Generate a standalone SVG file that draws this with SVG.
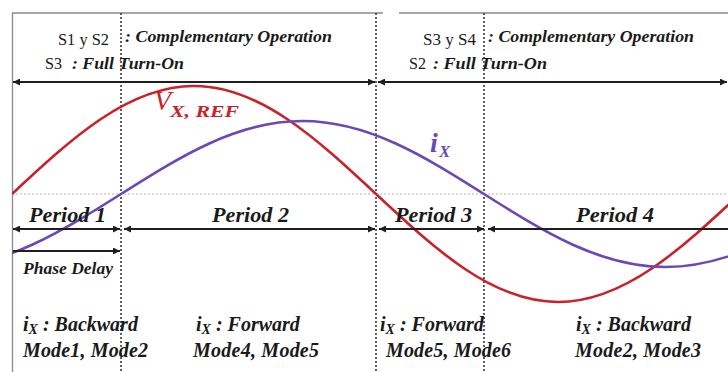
<svg xmlns="http://www.w3.org/2000/svg" width="728" height="372" viewBox="0 0 728 372">
<style>
.frame{stroke:#8a8a8a;stroke-width:1.3;fill:none}
.div{stroke:#3a3a3a;stroke-width:1.6;stroke-dasharray:2 2;fill:none}
.zero{stroke:#b5b5b5;stroke-width:1.2;stroke-dasharray:2 2;fill:none}
.arr{stroke:#1e1e1e;stroke-width:1.8;fill:none}
.reg{font-family:"Liberation Serif","Times New Roman",serif;font-size:16px;fill:#1a1a1a}
.bi{font-family:"Liberation Serif","Times New Roman",serif;font-weight:bold;font-style:italic;fill:#1a1a1a}
.top{font-size:16px}
.per{font-size:22px}
.bot{font-size:20px}
.sub{font-size:14px}
.red{stroke:#c8232b;stroke-width:2.6;fill:none}
.pur{stroke:#6a48b6;stroke-width:2.6;fill:none}
</style>
<defs>
<marker id="ah" viewBox="0 0 10 10" refX="10" refY="5" markerWidth="9" markerHeight="7" markerUnits="userSpaceOnUse" orient="auto-start-reverse">
<path d="M0,0 L10,5 L0,10 z" fill="#1e1e1e"/>
</marker>
<clipPath id="plot"><rect x="12" y="0" width="716" height="372"/></clipPath>
</defs>
<rect width="728" height="372" fill="#ffffff"/>
<g id="frame">
<line class="frame" x1="12.5" y1="13" x2="12.5" y2="372"/>
<line class="frame" x1="12" y1="13" x2="383" y2="13"/>
<line class="frame" x1="399" y1="13" x2="728" y2="13"/>
<line class="zero" x1="12" y1="194" x2="728" y2="194"/>
</g>
<g id="dividers">
<line class="div" x1="121" y1="13" x2="121" y2="372"/>
<line class="div" x1="376" y1="13" x2="376" y2="372"/>
<line class="div" x1="484" y1="13" x2="484" y2="372"/>
</g>
<g id="curves" clip-path="url(#plot)">
<path id="vref" class="red" d="M12,194 C71.36,138.67 128.14,86 194,86 C259.86,86 316.64,138.67 376,194 C435.36,249.33 492.14,302 558,302 C623.86,302 680.64,249.33 740,194"/>
<path id="ix" class="pur" d="M-60.5,267 C5.18,267 61.81,231.4 121,194 C180.19,156.6 236.82,121 302.5,121 C368.18,121 424.81,156.6 484,194 C543.19,231.4 599.82,267 665.5,267 C731.18,267 787.81,231.4 847,194"/>
</g>
<g id="connectors">
<line class="arr" x1="13" y1="82" x2="375" y2="82" marker-start="url(#ah)" marker-end="url(#ah)"/>
<line class="arr" x1="378" y1="82" x2="727" y2="82" marker-start="url(#ah)" marker-end="url(#ah)"/>
<line class="arr" x1="13" y1="229" x2="120" y2="229" marker-start="url(#ah)" marker-end="url(#ah)"/>
<line class="arr" x1="124" y1="229" x2="375" y2="229" marker-start="url(#ah)" marker-end="url(#ah)"/>
<line class="arr" x1="379" y1="229" x2="484" y2="229" marker-start="url(#ah)" marker-end="url(#ah)"/>
<line class="arr" x1="488" y1="229" x2="728" y2="229" marker-start="url(#ah)"/>
<line class="arr" x1="13" y1="251" x2="120" y2="251" marker-end="url(#ah)"/>
</g>
<g id="header-left">
<text class="reg" x="58" y="45" textLength="51" lengthAdjust="spacingAndGlyphs">S1 y S2</text>
<text class="bi top" x="125" y="42" textLength="207" lengthAdjust="spacingAndGlyphs">: Complementary Operation</text>
<text class="reg" x="45" y="69" textLength="17" lengthAdjust="spacingAndGlyphs">S3</text>
<text class="bi top" x="72" y="69" textLength="112" lengthAdjust="spacingAndGlyphs">: Full Turn-On</text>
</g>
<g id="header-right">
<text class="reg" x="423" y="45" textLength="53" lengthAdjust="spacingAndGlyphs">S3 y S4</text>
<text class="bi top" x="488" y="42" textLength="206" lengthAdjust="spacingAndGlyphs">: Complementary Operation</text>
<text class="reg" x="409" y="69" textLength="17" lengthAdjust="spacingAndGlyphs">S2</text>
<text class="bi top" x="433" y="69" textLength="114" lengthAdjust="spacingAndGlyphs">: Full Turn-On</text>
</g>
<g id="label-vref">
<text class="bi" x="154" y="110" style="font-size:28px;font-weight:normal;fill:#c8232b">V</text>
<text class="bi" x="170" y="117" style="font-size:17px;fill:#c8232b" textLength="69" lengthAdjust="spacingAndGlyphs">X, REF</text>
</g>
<g id="label-ix">
<text class="bi" x="430" y="152" style="font-size:28px;fill:#6a48b6">i</text>
<text class="bi" x="439" y="157" style="font-size:17px;fill:#6a48b6">X</text>
</g>
<g id="periods">
<text class="bi per" x="29" y="222" textLength="77" lengthAdjust="spacingAndGlyphs">Period 1</text>
<text class="bi per" x="212" y="222" textLength="77" lengthAdjust="spacingAndGlyphs">Period 2</text>
<text class="bi per" x="395" y="222" textLength="77" lengthAdjust="spacingAndGlyphs">Period 3</text>
<text class="bi per" x="576" y="222" textLength="78" lengthAdjust="spacingAndGlyphs">Period 4</text>
<text class="bi" x="23" y="274" style="font-size:16px" textLength="90" lengthAdjust="spacingAndGlyphs">Phase Delay</text>
</g>
<g id="mode-1">
<text class="bi bot" x="23" y="331"><tspan>i</tspan><tspan class="sub" dy="3">X</tspan><tspan dy="-3"> : Backward</tspan></text>
<text class="bi bot" x="23" y="357" textLength="125" lengthAdjust="spacing">Mode1, Mode2</text>
</g>
<g id="mode-2">
<text class="bi bot" x="196" y="331"><tspan>i</tspan><tspan class="sub" dy="3">X</tspan><tspan dy="-3"> : Forward</tspan></text>
<text class="bi bot" x="193" y="357" textLength="126" lengthAdjust="spacing">Mode4, Mode5</text>
</g>
<g id="mode-3">
<text class="bi bot" x="380" y="331"><tspan>i</tspan><tspan class="sub" dy="3">X</tspan><tspan dy="-3"> : Forward</tspan></text>
<text class="bi bot" x="386" y="357" textLength="125" lengthAdjust="spacing">Mode5, Mode6</text>
</g>
<g id="mode-4">
<text class="bi bot" x="576" y="331"><tspan>i</tspan><tspan class="sub" dy="3">X</tspan><tspan dy="-3"> : Backward</tspan></text>
<text class="bi bot" x="575" y="357" textLength="126" lengthAdjust="spacing">Mode2, Mode3</text>
</g>
</svg>
